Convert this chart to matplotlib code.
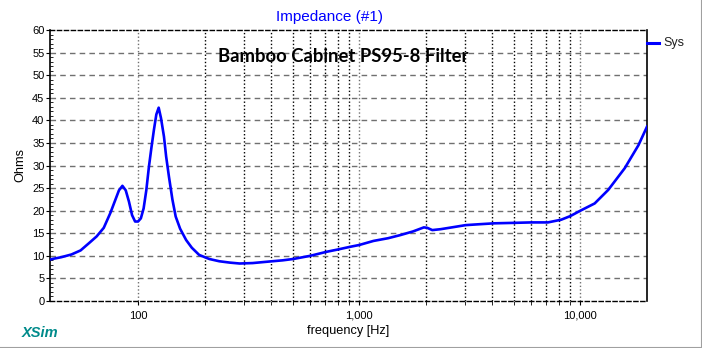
import matplotlib
matplotlib.use("Agg")
import matplotlib.pyplot as plt
from matplotlib.lines import Line2D
from matplotlib.ticker import FixedLocator, MultipleLocator

# impedance curve
freq = [40, 45, 50, 55, 60, 65, 70, 75, 78, 82, 85, 88, 91, 94, 97, 100,
        103, 106, 109, 112, 115, 118, 121, 124, 127, 131, 134, 138, 143, 148,
        155, 165, 175, 189, 210, 233, 260, 288, 330, 394, 450, 503, 600, 713,
        800, 910, 1000, 1160, 1350, 1536, 1750, 1960, 2030, 2140, 2335, 2700,
        3030, 3500, 4080, 5000, 6000, 7130, 8190, 9000, 10000, 11600, 13360,
        15860, 18300, 20000]
ohms = [9.2, 9.7, 10.3, 11.2, 12.8, 14.3, 16.2, 19.5, 21.7, 24.5, 25.5, 24.5,
        22.0, 19.0, 17.6, 17.6, 18.3, 20.5, 24.5, 29.7, 34.0, 37.9, 41.3, 42.8,
        40.5, 36.4, 32.0, 27.5, 22.5, 18.7, 16.0, 13.5, 11.8, 10.2, 9.3, 8.8,
        8.5, 8.3, 8.4, 8.75, 9.0, 9.3, 10.0, 10.9, 11.4, 12.0, 12.4, 13.3, 13.9,
        14.6, 15.4, 16.3, 16.2, 15.7, 15.9, 16.4, 16.8, 17.0, 17.2, 17.3, 17.4,
        17.4, 18.0, 18.8, 20.0, 21.6, 24.6, 29.4, 34.5, 38.6]

major_x = [100, 1000, 10000]
major_labels = ["100", "1,000", "10,000"]
minor_x = [200, 300, 400, 500, 600, 700, 800, 900,
           2000, 3000, 4000, 5000, 6000, 7000, 8000, 9000]

FONT = ["Liberation Sans", "DejaVu Sans"]
BLUE = "#0000ff"

fig = plt.figure(figsize=(7.02, 3.48), dpi=100)
ax = fig.add_axes([50 / 702, 47 / 348, 597 / 702, 271 / 348])

ax.plot(freq, ohms, color=BLUE, lw=1.9, solid_joinstyle="round", zorder=5)

ax.set_xscale("log")
ax.set_xlim(40, 20000)
ax.set_ylim(0, 60)

# grid lines
for f in minor_x:
    ax.axvline(f, color="black", ls=(0, (1, 1.6)), lw=1.0, zorder=1)
for f in major_x:
    ax.axvline(f, color="#707070", ls=(0, (1, 1.6)), lw=1.0, zorder=1)
for y in range(5, 60, 5):
    ax.axhline(y, color="#707070", ls=(0, (4, 3)), lw=1.0, zorder=1)

ax.xaxis.set_major_locator(FixedLocator(major_x))
ax.xaxis.set_minor_locator(FixedLocator(minor_x))
ax.set_xticklabels(major_labels)
ax.yaxis.set_major_locator(MultipleLocator(5))
ax.yaxis.set_minor_locator(MultipleLocator(1))
ax.tick_params(axis="x", which="both", length=3, direction="out", labelsize=8, pad=4)
ax.tick_params(axis="y", which="major", length=3, direction="out", labelsize=8, pad=1)
ax.tick_params(axis="y", which="minor", length=2.5, direction="in")
for lab in ax.get_xticklabels() + ax.get_yticklabels():
    lab.set_family(FONT)

# frame: solid sides, dashed top/bottom
ax.spines["left"].set_linewidth(1.2)
ax.spines["right"].set_linewidth(1.2)
ax.spines["top"].set_linestyle((0, (3, 2)))
ax.spines["bottom"].set_linestyle((0, (3, 2)))
ax.spines["top"].set_linewidth(1.0)
ax.spines["bottom"].set_linewidth(1.0)

ax.set_xlabel("frequency [Hz]", family=FONT, fontsize=9.2, labelpad=3)
ax.set_ylabel("Ohms", family=FONT, fontsize=9.2, labelpad=4)

fig.text(330 / 702, 1 - 17 / 348, "Impedance (#1)", color=BLUE, family=FONT,
         fontsize=11, ha="center", va="center")
fig.text(343 / 702, 1 - 56 / 348, "Bamboo Cabinet PS95-8 Filter", color="black",
         family=["Lato", "DejaVu Sans"], fontweight="bold", fontsize=13.3,
         ha="center", va="center")

# legend entry on the right
fig.add_artist(Line2D([647 / 702, 659 / 702], [1 - 43 / 348, 1 - 43 / 348],
                      color=BLUE, lw=2.2))
fig.text(663 / 702, 1 - 43 / 348, "Sys", family=FONT, fontsize=9,
         color="#202020", ha="left", va="center")

fig.text(22 / 702, 1 - 333 / 348, "XSim", family=FONT, fontsize=10.5,
         fontweight="bold", fontstyle="italic", color="#008b8b",
         ha="left", va="center")

# grey window border at right and bottom
fig.add_artist(Line2D([0, 1], [0.5 / 348, 0.5 / 348], color="#a0a0a0", lw=1.5))
fig.add_artist(Line2D([1 - 0.5 / 702, 1 - 0.5 / 702], [0, 1], color="#a0a0a0", lw=1.5))

fig.savefig("out.png", dpi=100)
